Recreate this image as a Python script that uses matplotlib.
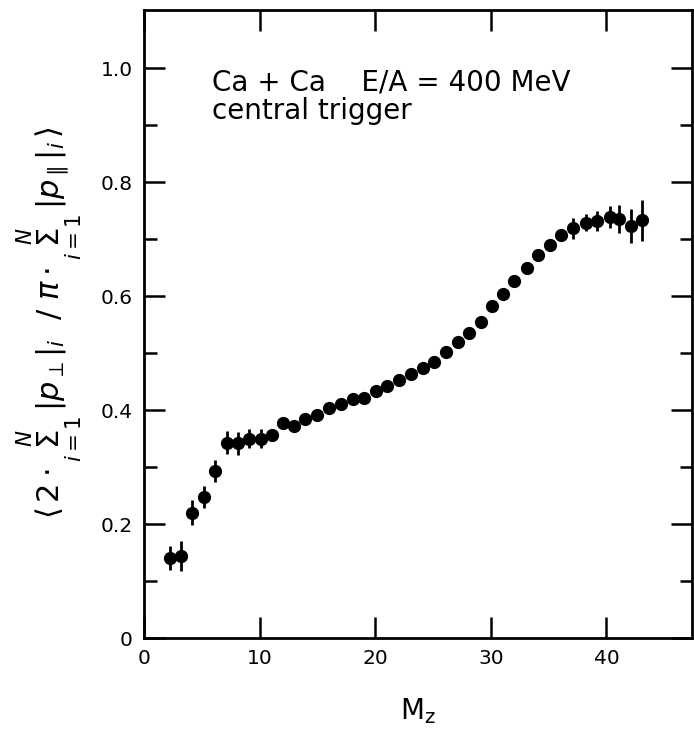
import matplotlib
matplotlib.use("Agg")
import matplotlib.pyplot as plt
from matplotlib.ticker import FixedLocator, FixedFormatter

# <2 sum|p_perp| / pi sum|p_par|> vs M_z, Ca + Ca at 400 MeV/A
mz = [2.25, 3.2, 4.15, 5.2, 6.1, 7.15, 8.15, 9.1, 10.1, 11.1,
      12.0, 13.0, 13.9, 14.95, 16.0, 17.0, 18.05, 19.05, 20.1, 21.05,
      22.1, 23.1, 24.1, 25.1, 26.15, 27.2, 28.15, 29.15, 30.1, 31.05,
      32.05, 33.1, 34.1, 35.1, 36.1, 37.1, 38.2, 39.2, 40.3, 41.1,
      42.1, 43.1]
ratio = [0.140, 0.144, 0.220, 0.248, 0.293, 0.343, 0.342, 0.350, 0.350, 0.357,
         0.377, 0.372, 0.385, 0.391, 0.403, 0.410, 0.419, 0.422, 0.434, 0.443,
         0.453, 0.464, 0.474, 0.485, 0.502, 0.520, 0.535, 0.555, 0.582, 0.603,
         0.627, 0.650, 0.672, 0.689, 0.708, 0.719, 0.729, 0.732, 0.739, 0.735,
         0.723, 0.733]
err = [0.021, 0.026, 0.022, 0.019, 0.020, 0.020, 0.020, 0.016, 0.016, 0.010,
       0.006, 0.006, 0.005, 0.005, 0.005, 0.005, 0.005, 0.005, 0.005, 0.005,
       0.005, 0.005, 0.005, 0.005, 0.005, 0.005, 0.005, 0.005, 0.005, 0.005,
       0.005, 0.005, 0.005, 0.005, 0.006, 0.018, 0.015, 0.017, 0.019, 0.025,
       0.029, 0.036]

y_ticks = [0, 0.2, 0.4, 0.6, 0.8, 1.0]
y_labels = ["0", "0.2", "0.4", "0.6", "0.8", "1.0"]
x_ticks = [0, 10, 20, 30, 40]

plt.rcParams["mathtext.fontset"] = "dejavusans"

fig = plt.figure(figsize=(6.94, 7.32), dpi=100)
ax = fig.add_axes([0.2075, 0.1284, 0.7895, 0.8579])

ax.errorbar(mz, ratio, yerr=err, fmt="o", color="black", ms=8.5,
            elinewidth=2.0, capsize=0)

ax.set_xlim(0, 47.4)
ax.set_ylim(0, 1.102)

ax.yaxis.set_major_locator(FixedLocator(y_ticks))
ax.yaxis.set_major_formatter(FixedFormatter(y_labels))
ax.yaxis.set_minor_locator(FixedLocator([0.1, 0.3, 0.5, 0.7, 0.9]))
ax.xaxis.set_major_locator(FixedLocator(x_ticks))

ax.tick_params(which="both", direction="in", top=True, right=True,
               width=1.8, labelsize=14.5)
ax.tick_params(which="major", length=15, pad=8)
ax.tick_params(which="minor", length=9)
for s in ax.spines.values():
    s.set_linewidth(2.0)

ax.text(5.9, 0.961, "Ca + Ca    E/A = 400 MeV", fontsize=20, ha="left", va="baseline")
ax.text(5.9, 0.911, "central trigger", fontsize=20, ha="left", va="baseline")

ax.set_xlabel(r"$\mathregular{M_z}$", fontsize=20, labelpad=20)

sum_sym = r"\underset{i=1}{\overset{N}{\Sigma}}"
ylab = (r"$\langle\,2\cdot" + sum_sym + r"\,|p_{\perp}|_i\ \ /\ \pi\cdot"
        + sum_sym + r"\,|p_{\parallel}|_i\,\rangle$")
fig.text(50 / 694, 1 - 322 / 732, ylab, rotation=90, fontsize=22,
         ha="center", va="center")

fig.savefig("out.png", dpi=100)
